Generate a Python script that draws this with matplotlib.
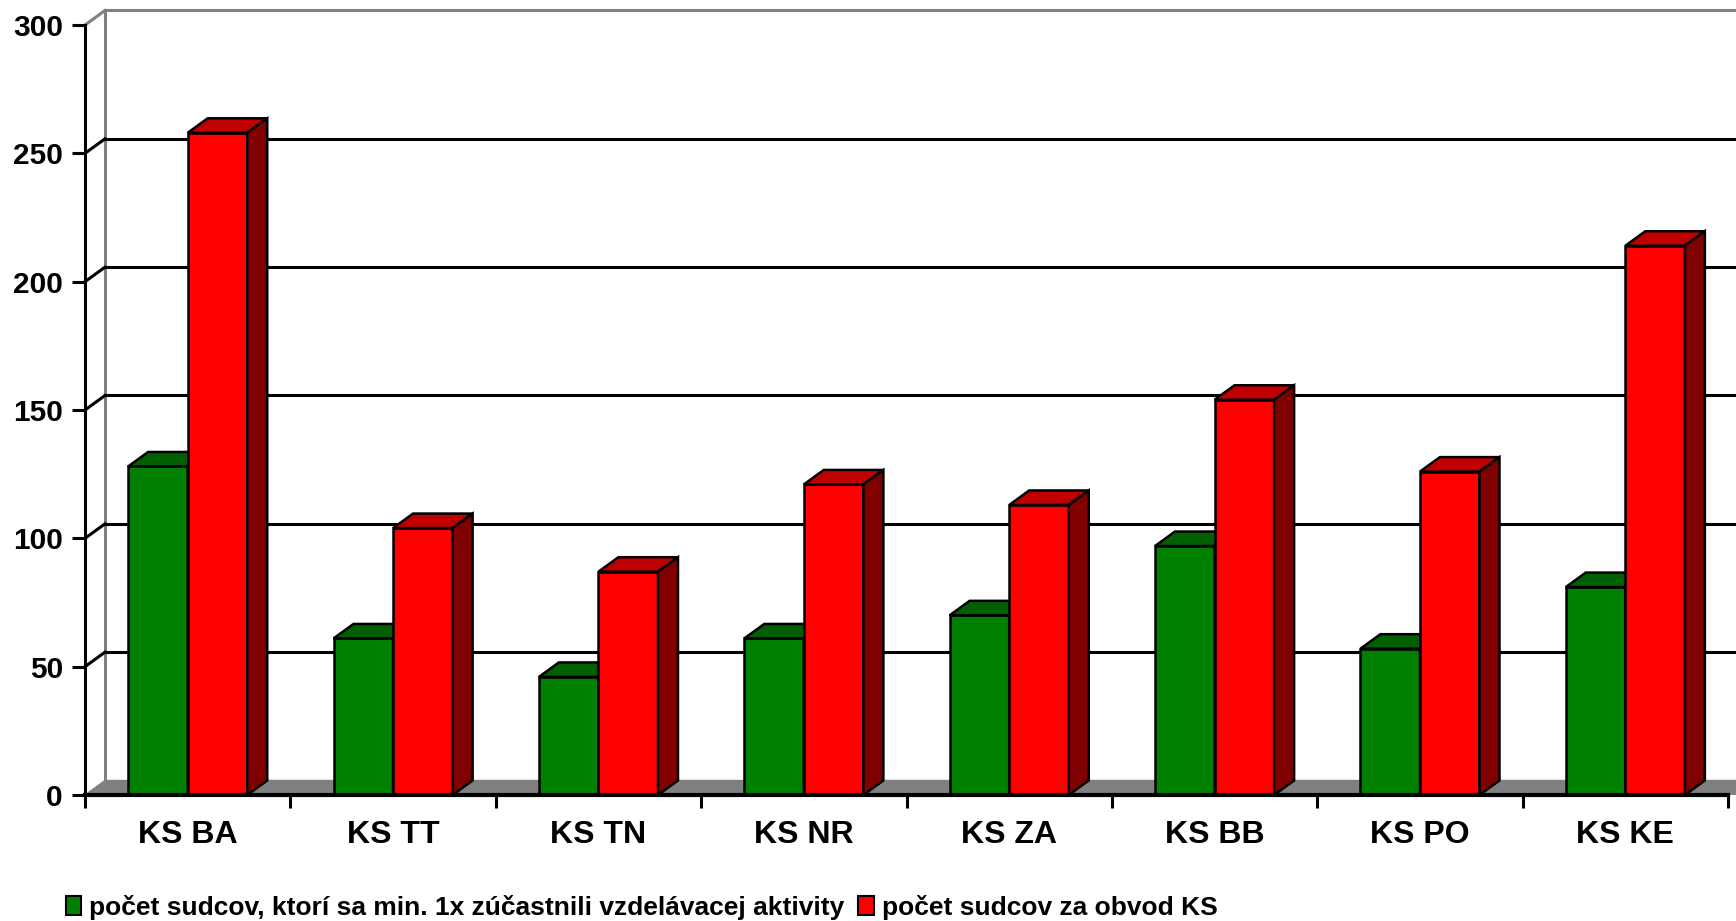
import matplotlib
matplotlib.use('Agg')
import matplotlib.pyplot as plt
from matplotlib.patches import Polygon, Patch

plt.rcParams['font.family'] = ['Liberation Sans', 'DejaVu Sans']
plt.rcParams['font.weight'] = 'bold'

# data
categories = ['KS BA', 'KS TT', 'KS TN', 'KS NR', 'KS ZA', 'KS BB', 'KS PO', 'KS KE']
trained = [128, 61, 46, 61, 70, 97, 57, 81]
judges = [258, 104, 87, 121, 113, 154, 126, 214]
legend_labels = ['počet sudcov, ktorí sa min. 1x zúčastnili vzdelávacej aktivity',
                 'počet sudcov za obvod KS']
yticks = [0, 50, 100, 150, 200, 250, 300]

W, H = 1736, 921
x_left, x_right = 85, 1728   # front x axis in pixels
y_zero, y_top = 795, 25      # front y axis (0 and 300)
ymax = 300

fig = plt.figure(figsize=(W / 100, H / 100), dpi=100)
ax = fig.add_axes([x_left / W, (H - y_zero) / H, (W - x_left) / W, y_zero / H])
n = len(categories)
px_per_cat = (x_right - x_left) / n
px_per_unit = (y_zero - y_top) / ymax
ax.set_xlim(0, (W - x_left) / px_per_cat)
ax.set_ylim(0, y_zero / px_per_unit)

# 3d depth offset in data units
dx = 20 / px_per_cat
dy = 14.5 / px_per_unit
xend = (W - x_left) / px_per_cat + 1

# floor
ax.add_patch(Polygon([(0, 0), (xend, 0), (xend + dx, dy), (dx, dy)],
                     closed=True, facecolor='#808080', edgecolor='#808080', lw=1, zorder=1))
# back wall left edge and gridlines
ax.plot([dx, dx], [dy, ymax + dy], color='#808080', lw=2.2, zorder=1, clip_on=False)
for v in yticks[1:]:
    c = '#808080' if v == ymax else 'black'
    ax.plot([dx, xend], [v + dy, v + dy], color=c, lw=2.2, zorder=1, clip_on=False)
    ax.plot([0, dx], [v, v + dy], color=c, lw=2.2, zorder=1, clip_on=False)


def bar3d(x, w, h, front, top, side):
    ax.add_patch(Polygon([(x, 0), (x + w, 0), (x + w, h), (x, h)], closed=True,
                         facecolor=front, edgecolor='black', lw=1.8, zorder=3))
    ax.add_patch(Polygon([(x, h), (x + w, h), (x + w + dx, h + dy), (x + dx, h + dy)], closed=True,
                         facecolor=top, edgecolor='black', lw=1.8, zorder=3))
    ax.add_patch(Polygon([(x + w, 0), (x + w + dx, dy), (x + w + dx, h + dy), (x + w, h)], closed=True,
                         facecolor=side, edgecolor='black', lw=1.8, zorder=3))


bw = 0.29
for i in range(n):
    bar3d(i + 0.5 - bw, bw, trained[i], '#008000', '#005f00', '#004000')
    bar3d(i + 0.5, bw, judges[i], '#ff0000', '#c00000', '#800000')

# front axes
for s in ['top', 'right']:
    ax.spines[s].set_visible(False)
ax.spines['left'].set_bounds(0, ymax)
ax.spines['bottom'].set_bounds(0, n)
ax.spines['left'].set_linewidth(2.2)
ax.spines['bottom'].set_linewidth(3)
ax.spines['left'].set_zorder(4)
ax.spines['bottom'].set_zorder(4)

ax.set_yticks(yticks)
ax.set_yticklabels([str(v) for v in yticks], fontsize=21.5, fontweight='bold')
ax.tick_params(axis='y', length=9.4, width=2.2, pad=6.5)
ax.set_xticks(range(n + 1))
ax.set_xticklabels([])
ax.set_xticks([i + 0.5 for i in range(n)], minor=True)
ax.set_xticklabels(categories, minor=True, fontsize=23, fontweight='bold')
ax.tick_params(axis='x', which='major', length=9.4, width=2.2)
ax.tick_params(axis='x', which='minor', length=0, pad=18)

handles = [Patch(facecolor='#008000', edgecolor='black', lw=1.5),
           Patch(facecolor='#ff0000', edgecolor='black', lw=1.5)]
fig.legend(handles, legend_labels, loc='center left', bbox_to_anchor=(55 / W, 1 - 907 / H),
           ncol=2, frameon=False, handlelength=0.6, handleheight=0.7, handletextpad=0.3,
           columnspacing=0.5, borderaxespad=0, prop={'size': 19, 'weight': 'bold'})

fig.savefig('out.png', dpi=100)
